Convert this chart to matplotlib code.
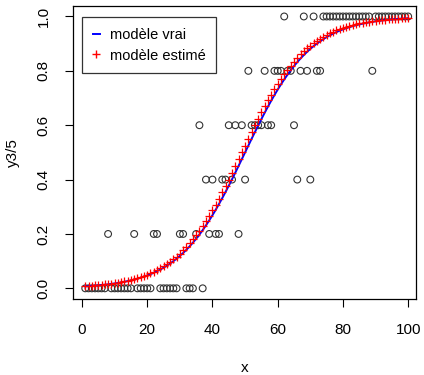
import numpy as np
import matplotlib
matplotlib.use("Agg")
import matplotlib.pyplot as plt
from matplotlib.lines import Line2D

# ---- data ----
x = list(range(1, 101))
# number of successes out of 5 at each x (y3)
y3 = [0, 0, 0, 0, 0, 0, 0, 1, 0, 0,      # 1-10
      0, 0, 0, 0, 0, 1, 0, 0, 0, 0,      # 11-20
      0, 1, 1, 0, 0, 0, 0, 0, 0, 1,      # 21-30
      1, 0, 0, 0, 1, 3, 0, 2, 1, 2,      # 31-40
      1, 1, 2, 2, 3, 2, 3, 1, 3, 2,      # 41-50
      4, 3, 3, 3, 3, 4, 3, 3, 4, 4,      # 51-60
      4, 5, 4, 4, 3, 2, 4, 5, 4, 2,      # 61-70
      5, 4, 4, 5, 5, 5, 5, 5, 5, 5,      # 71-80
      5, 5, 5, 5, 5, 5, 5, 5, 4, 5,      # 81-90
      5, 5, 5, 5, 5, 5, 5, 5, 5, 5]      # 91-100
n_trials = 5

# logistic model coefficients (true and estimated)
true_intercept, true_slope = -5.0, 0.10
est_intercept, est_slope = -4.95, 0.101

x_ticks = [0, 20, 40, 60, 80, 100]
y_ticks = [0.0, 0.2, 0.4, 0.6, 0.8, 1.0]
legend_labels = ["modèle vrai", "modèle estimé"]

# ---- derived ----
xa = np.array(x, dtype=float)
ya = np.array(y3, dtype=float) / n_trials
p_true = 1.0 / (1.0 + np.exp(-(true_intercept + true_slope * xa)))
p_est = 1.0 / (1.0 + np.exp(-(est_intercept + est_slope * xa)))

plt.rcParams['font.family'] = ['Liberation Sans', 'DejaVu Sans']

W, H = 424, 375
fig = plt.figure(figsize=(W / 100, H / 100), dpi=100)
L, R, T, B = 72.7, 416.0, 5.6, 299.2
ax = fig.add_axes([L / W, 1 - B / H, (R - L) / W, (B - T) / H])

ax.scatter(xa, ya, s=24, facecolors='none', edgecolors='#333333', linewidths=0.8, zorder=2)
ax.plot(xa, p_true, color='blue', lw=1.4, zorder=3)
ax.plot(xa, p_est, linestyle='none', marker='+', color='red', ms=5.5, mew=0.9, zorder=4)

ax.set_xlim(-2.85, 102.4)
ax.set_ylim(-0.04, 1.04)
ax.set_xticks(x_ticks)
ax.set_xticklabels([str(v) for v in x_ticks])
ax.set_yticks(y_ticks)
ax.set_yticklabels([f"{v:.1f}" for v in y_ticks], rotation=90, va='center')
ax.tick_params(direction='out', length=5.8, width=0.8, labelsize=11, colors='black')
ax.tick_params(axis='x', pad=11.5)
ax.tick_params(axis='y', pad=10)
for s in ax.spines.values():
    s.set_linewidth(0.9)
    s.set_color('black')

ax.set_xlabel("x", fontsize=11, labelpad=17)
ax.set_ylabel("y3/5", fontsize=11, labelpad=12)

handles = [Line2D([], [], color='blue', lw=1.4),
           Line2D([], [], linestyle='none', marker='+', color='red', ms=6, mew=1.0)]
leg = ax.legend(handles, legend_labels, loc='upper left',
                bbox_to_anchor=(82 / W, 1 - 17 / H), bbox_transform=fig.transFigure,
                borderaxespad=0, frameon=True, fancybox=False, edgecolor='black',
                fontsize=10.5, handlelength=0.45, handletextpad=0.7, borderpad=0.75,
                labelspacing=0.45)
leg.get_frame().set_linewidth(0.9)

fig.savefig("out.png", dpi=100)
